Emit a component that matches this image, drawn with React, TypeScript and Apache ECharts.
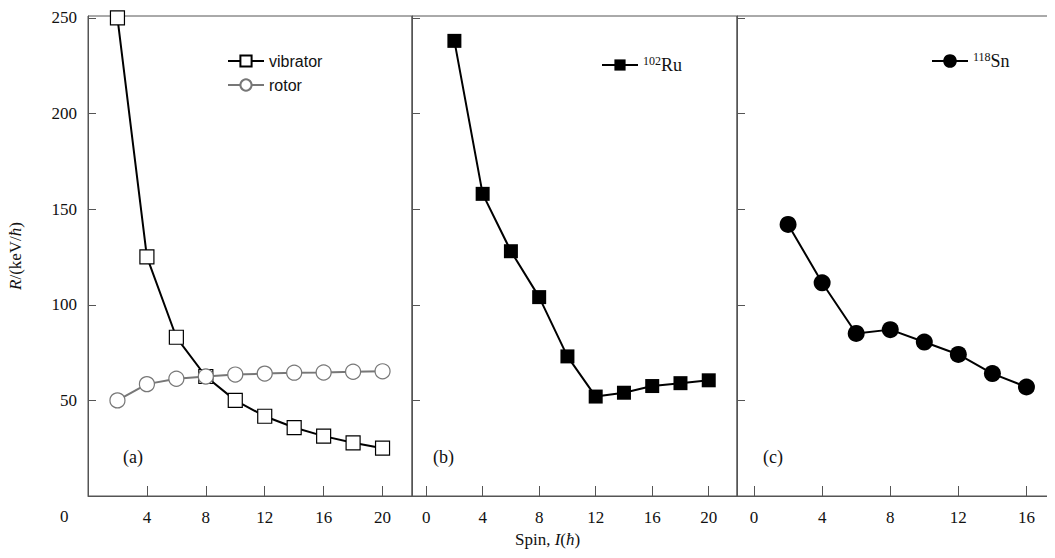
import React from "react";
import * as echarts from "echarts";

const spinA = [2, 4, 6, 8, 10, 12, 14, 16, 18, 20];
const vibrator = [250, 125, 83, 62.5, 50, 41.7, 35.8, 31.3, 27.8, 25];
const rotor = [50, 58.5, 61.3, 62.5, 63.5, 64, 64.5, 64.6, 65, 65.2];
const spinB = [2, 4, 6, 8, 10, 12, 14, 16, 18, 20];
const ru102 = [238, 158, 128, 104, 73, 52, 54, 57.5, 59, 60.5];
const spinC = [2, 4, 6, 8, 10, 12, 14, 16];
const sn118 = [142, 111.5, 85, 87, 80.5, 74, 64, 57];
const xTicksAB = [0, 4, 8, 12, 16, 20];
const xTicksC = [0, 4, 8, 12, 16];
const yTicks = [50, 100, 150, 200, 250];

const font = "Liberation Serif";
const sans = "Liberation Sans";
const frame = "#555";
const fs = 17;

const pairs = (xs: number[], ys: number[]) => xs.map((x, i) => [x, ys[i]]);

export default function App() {
  const chartRef = React.useRef<HTMLDivElement>(null);
  React.useEffect(() => {
    const chart = echarts.init(chartRef.current, null, { renderer: "svg" });
    const grid = (left: number, right: number) => ({
      left, right, top: 16, bottom: 62, show: true,
      borderColor: frame, borderWidth: 1,
    });
    const xAxis = (i: number, min: number, max: number, ticks: number[]) => ({
      type: "value", gridIndex: i, min, max,
      axisLine: { onZero: false, lineStyle: { color: frame } },
      axisTick: { inside: true, length: 10, lineStyle: { color: frame }, customValues: ticks },
      axisLabel: {
        customValues: i === 0 ? ticks.filter((t) => t !== 0) : ticks,
        color: "#111", fontFamily: font, fontSize: fs, margin: 13,
      },
      splitLine: { show: false },
    });
    const yAxis = (i: number) => ({
      type: "value", gridIndex: i, min: 0, max: 251,
      axisLine: { show: true, onZero: false, lineStyle: { color: frame } },
      axisTick: { inside: true, length: 8, lineStyle: { color: frame }, customValues: yTicks },
      axisLabel: {
        show: i === 0, color: "#111",
        fontFamily: font, fontSize: fs, margin: 11,
        customValues: yTicks,
      },
      splitLine: { show: false },
      ...(i === 0
        ? {
            name: "{i|R}{n|/(keV/}{i|ħ}{n|)}", nameLocation: "middle", nameRotate: 90, nameGap: 64,
            nameTextStyle: {
              rich: {
                i: { fontStyle: "italic", fontFamily: font, fontSize: fs, color: "#111" },
                n: { fontFamily: font, fontSize: fs, color: "#111" },
              },
            },
          }
        : {}),
    });
    const textStyle = {
      fontFamily: font, fontSize: fs, color: "#111",
      rich: {
        s: { fontFamily: sans, fontSize: 16, color: "#111" },
        n: { fontFamily: font, fontSize: 18, color: "#111" },
        sup: { fontFamily: font, fontSize: 12, color: "#111", verticalAlign: "top", padding: [0, 0, 8, 0] },
      },
    };
    chart.setOption({
      animation: false,
      grid: [grid(88, 643), grid(412, 318), grid(737, 3)],
      xAxis: [xAxis(0, 0, 22, xTicksAB), xAxis(1, -1, 22, xTicksAB), xAxis(2, -1, 17.5, xTicksC)],
      yAxis: [yAxis(0), yAxis(1), yAxis(2)],
      legend: [
        { data: ["vibrator", "rotor"], orient: "vertical", left: 222, top: 48, itemGap: 8, itemWidth: 36, itemHeight: 14, textStyle, formatter: (n: string) => `{s|${n}}` },
        { data: ["ru"], left: 596, top: 50, itemWidth: 36, itemHeight: 14, textStyle, formatter: () => "{sup|102}{n|Ru}" },
        { data: ["sn"], left: 926, top: 46, itemWidth: 36, itemHeight: 17, textStyle, formatter: () => "{sup|118}{n|Sn}" },
      ],
      series: [
        {
          name: "vibrator", type: "line", xAxisIndex: 0, yAxisIndex: 0, data: pairs(spinA, vibrator),
          symbol: "rect", symbolSize: 14, lineStyle: { color: "#000", width: 2 },
          itemStyle: { color: "#fff", borderColor: "#000", borderWidth: 1.2 }, z: 3,
        },
        {
          name: "rotor", type: "line", xAxisIndex: 0, yAxisIndex: 0, data: pairs(spinA, rotor),
          symbol: "circle", symbolSize: 15, lineStyle: { color: "#777", width: 2 },
          itemStyle: { color: "#fff", borderColor: "#777", borderWidth: 1.2 },
        },
        {
          name: "ru", type: "line", xAxisIndex: 1, yAxisIndex: 1, data: pairs(spinB, ru102),
          symbol: "rect", symbolSize: 14, lineStyle: { color: "#000", width: 2 },
          itemStyle: { color: "#000" },
        },
        {
          name: "sn", type: "line", xAxisIndex: 2, yAxisIndex: 2, data: pairs(spinC, sn118),
          symbol: "circle", symbolSize: 17, lineStyle: { color: "#000", width: 2 },
          itemStyle: { color: "#000" },
        },
      ],
      graphic: [
        { type: "text", left: 60, top: 508, style: { text: "0", font: `${fs}px "${font}"`, fill: "#111" } },
        { type: "text", left: 123, top: 448, style: { text: "(a)", font: `18px "${font}"`, fill: "#111" } },
        { type: "text", left: 433, top: 448, style: { text: "(b)", font: `18px "${font}"`, fill: "#111" } },
        { type: "text", left: 763, top: 448, style: { text: "(c)", font: `18px "${font}"`, fill: "#111" } },
        {
          type: "text", left: 515, top: 531,
          style: {
            text: "{n|Spin, }{i|I}{n|(}{i|ħ}{n|)}",
            rich: {
              i: { fontStyle: "italic", fontFamily: font, fontSize: fs, fill: "#111" },
              n: { fontFamily: font, fontSize: fs, fill: "#111" },
            },
          },
        },
      ],
    });
    return () => chart.dispose();
  }, []);
  return <div ref={chartRef} style={{ width: 1055, height: 558, margin: -8, background: "#fff" }} />;
}
